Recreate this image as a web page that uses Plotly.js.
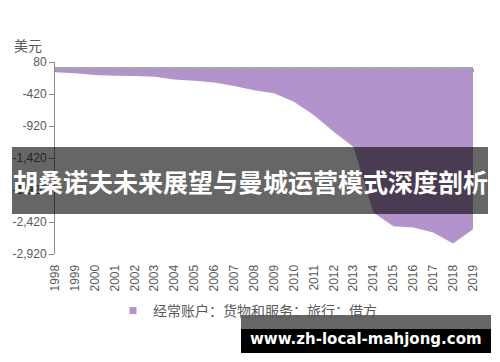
<!DOCTYPE html>
<html>
<head>
<meta charset="utf-8">
<script src="https://cdn.plot.ly/plotly-3.0.1.min.js"></script>
<style>html,body{margin:0;padding:0;background:#fff;}#chart{width:500px;height:362px;}</style>
</head>
<body>
<div id="chart"></div>
<script>
// Data
const years = [1998,1999,2000,2001,2002,2003,2004,2005,2006,2007,2008,2009,2010,2011,2012,2013,2014,2015,2016,2017,2018,2019];
const travelDebit = [-82,-97,-123,-135,-140,-150,-192,-212,-240,-295,-360,-410,-540,-750,-1010,-1250,-2270,-2485,-2505,-2585,-2755,-2535];
const yTickVals = [80,-420,-920,-1420,-1920,-2420,-2920];
const yTickText = ["80","-420","-920","-1,420","-1,920","-2,420","-2,920"];
const xTickText = years.map(String);
const seriesName = "经常账户：货物和服务：旅行：借方";
const unitLabel = "美元";
const bannerText = "胡桑诺夫未来展望与曼城运营模式深度剖析";
const watermarkText = "www.zh-local-mahjong.com";

const W = 500, H = 362;
const L = 55, R = 473, T = 62, B = 254;
const px = x => (x - L) / (R - L);
const py = y => (B - y) / (B - T);
const yMin = -2920, yMax = 80;

const traces = [
  {
    x: years, y: travelDebit, type: 'scatter', mode: 'none',
    fill: 'tozeroy', fillcolor: '#b393cc', showlegend: false, hoverinfo: 'skip'
  },
  {
    x: years, y: travelDebit, type: 'scatter', mode: 'none', xaxis: 'x2',
    showlegend: false, hoverinfo: 'skip'
  },
  {
    x: [null], y: [null], type: 'scatter', mode: 'markers', name: seriesName,
    marker: {symbol: 'square', size: 7, color: '#b393cc'}
  }
];

const tickFont = {family: 'Liberation Sans, Arial, sans-serif', size: 12, color: '#595959'};

const layout = {
  width: W, height: H,
  margin: {l: L, r: W - R, t: T, b: H - B, pad: 0},
  paper_bgcolor: '#ffffff', plot_bgcolor: '#ffffff',
  showlegend: true,
  legend: {
    orientation: 'h', x: px(113), xanchor: 'left', y: py(311), yanchor: 'middle',
    font: {family: 'Noto Sans CJK SC, sans-serif', size: 14, color: '#595959'},
    itemwidth: 30, bgcolor: 'rgba(0,0,0,0)'
  },
  xaxis: {
    range: [1998, 2019], tickvals: years, ticktext: xTickText, tickangle: -90,
    showline: false, showgrid: false, zeroline: false,
    ticks: 'outside', ticklen: 5, tickcolor: 'rgba(0,0,0,0)',
    tickfont: tickFont, fixedrange: true
  },
  xaxis2: {
    overlaying: 'x', anchor: 'free', position: (0 - yMin) / (yMax - yMin),
    type: 'linear', range: [1998, 2019], tickmode: 'array', tickvals: years, showticklabels: false,
    showline: true, linecolor: '#a6a6a6', linewidth: 1.5, layer: 'above traces',
    ticks: 'outside', ticklen: 3, tickcolor: '#9a9a9a', tickwidth: 1,
    showgrid: false, zeroline: false, side: 'bottom'
  },
  yaxis: {
    range: [yMin, yMax], tickvals: yTickVals, ticktext: yTickText,
    showline: true, linecolor: '#8c8c8c', linewidth: 1,
    ticks: 'outside', ticklen: 5, tickcolor: '#8c8c8c',
    showgrid: false, zeroline: false, tickfont: tickFont, fixedrange: true
  },
  annotations: [
    {text: unitLabel, xref: 'paper', yref: 'paper', x: px(28), y: py(45),
     xanchor: 'center', yanchor: 'middle', showarrow: false,
     font: {family: 'Noto Sans CJK SC, sans-serif', size: 14, color: '#595959'}},
    {text: '<b>' + bannerText + '</b>', xref: 'paper', yref: 'paper', x: px(250), y: py(181),
     xanchor: 'center', yanchor: 'middle', showarrow: false,
     font: {family: 'Noto Sans CJK SC, sans-serif', size: 25, color: '#ffffff'}},
    {text: '<b>' + watermarkText + '</b>', xref: 'paper', yref: 'paper', x: px(366), y: py(339),
     xanchor: 'center', yanchor: 'middle', showarrow: false,
     font: {family: 'DejaVu Sans, sans-serif', size: 15, color: '#ffffff'}}
  ],
  shapes: [
    {type: 'rect', xref: 'paper', yref: 'paper', x0: px(12), x1: px(488), y0: py(147), y1: py(214),
     fillcolor: 'rgba(0,0,0,0.6)', line: {width: 0}, layer: 'above'},
    {type: 'rect', xref: 'paper', yref: 'paper', x0: px(241), x1: px(491), y0: py(315), y1: py(329),
     fillcolor: 'rgba(0,0,0,0.6)', line: {width: 0}, layer: 'above'},
    {type: 'rect', xref: 'paper', yref: 'paper', x0: px(241), x1: px(491), y0: py(329), y1: py(353),
     fillcolor: '#000000', line: {width: 0}, layer: 'above'}
  ]
};

Plotly.newPlot('chart', traces, layout, {displayModeBar: false, staticPlot: true});
</script>
</body>
</html>
